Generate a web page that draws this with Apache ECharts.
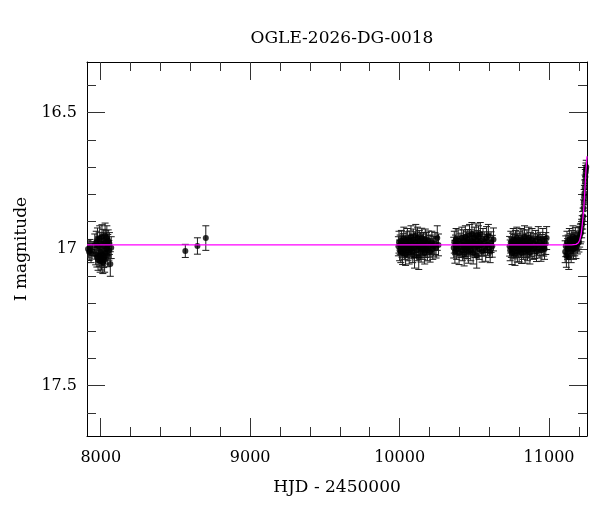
<!DOCTYPE html>
<html>
<head>
<meta charset="utf-8">
<script src="https://cdn.jsdelivr.net/npm/echarts@6.0.0/dist/echarts.min.js"></script>
<style>
html,body{margin:0;padding:0;background:#fff;}
#chart{width:600px;height:512px;}
</style>
</head>
<body>
<div id="chart"></div>
<script>
const chartTitle = 'OGLE-2026-DG-0018';
const xAxisTitle = 'HJD - 2450000';
const yAxisTitle = 'I magnitude';

const xMajorTicks = [8000, 9000, 10000, 11000];
const xMinorTicks = [8200, 8400, 8600, 8800, 9200, 9400, 9600, 9800, 10200, 10400, 10600, 10800, 11200];
const yMajorTicks = [16.5, 17, 17.5];
const yMinorTicks = [16.4, 16.6, 16.7, 16.8, 16.9, 17.1, 17.2, 17.3, 17.4, 17.6];

// [HJD-2450000, I mag, error]
const season1 = [
  [7915,17.000,0.030],[7922,17.010,0.032],[7928,16.995,0.030],[7935,17.015,0.035],[7942,17.005,0.032],
  [7960,16.985,0.040],[7966,17.020,0.038],[7970,16.975,0.040],[7974,17.030,0.036],[7978,16.965,0.042],
  [7982,17.040,0.038],[7986,16.990,0.035],[7990,17.025,0.040],[7993,16.960,0.045],[7996,17.045,0.040],
  [7999,17.010,0.038],[8002,16.980,0.040],[8005,17.035,0.042],[8008,16.955,0.044],[8011,17.020,0.040],
  [8014,17.050,0.040],[8017,16.970,0.042],[8020,17.030,0.038],[8023,16.990,0.040],[8026,17.040,0.045],
  [8029,16.950,0.045],[8032,17.015,0.040],[8035,16.975,0.042],[8038,17.000,0.040],[8041,16.960,0.045],
  [8044,17.025,0.040],[8047,16.985,0.038],[8050,16.970,0.040],[8054,17.005,0.036],[8058,16.980,0.040],
  [8064,17.055,0.045],[8070,16.995,0.040]
];
const sparsePoints = [
  [8566,17.007,0.024],[8647,16.989,0.030],[8703,16.960,0.045]
];
const season2 = [
  [9992,16.990,0.035],[9996,16.975,0.040],[10000,17.005,0.038],[10004,16.985,0.036],[10008,17.010,0.040],
  [10012,16.970,0.038],[10016,16.995,0.035],[10020,17.015,0.042],[10024,16.980,0.036],[10028,16.960,0.040],
  [10032,17.000,0.038],[10036,16.990,0.035],[10040,17.020,0.040],[10044,16.975,0.038],[10048,16.995,0.036],
  [10052,16.965,0.040],[10056,17.005,0.038],[10060,16.985,0.035],[10064,17.015,0.040],[10068,16.970,0.036],
  [10072,16.990,0.038],[10076,16.955,0.040],[10080,17.000,0.036],[10084,16.980,0.035],[10088,17.010,0.040],
  [10092,16.965,0.038],[10096,16.995,0.036],[10100,17.025,0.045],[10104,16.975,0.038],[10108,16.950,0.040],
  [10112,16.985,0.036],[10116,17.005,0.038],[10120,16.960,0.040],[10124,16.990,0.035],[10128,17.030,0.045],
  [10132,16.970,0.038],[10136,16.995,0.036],[10140,16.980,0.040],[10144,17.010,0.038],[10148,16.960,0.036],
  [10152,16.985,0.040],[10156,17.000,0.038],[10160,16.975,0.036],[10164,16.990,0.035],[10168,17.015,0.040],
  [10172,16.965,0.038],[10176,16.995,0.036],[10180,16.980,0.040],[10186,17.005,0.038],[10192,16.970,0.036],
  [10198,16.990,0.040],[10204,17.010,0.038],[10210,16.985,0.036],[10216,16.975,0.040],[10222,17.000,0.038],
  [10228,16.990,0.036],[10236,16.980,0.040],[10244,16.995,0.038],[10252,16.960,0.045],[10260,16.985,0.040]
];
const season3 = [
  [10362,16.995,0.038],[10366,16.975,0.040],[10370,17.010,0.042],[10374,16.985,0.036],[10378,16.965,0.040],
  [10382,17.000,0.038],[10386,16.990,0.036],[10392,16.970,0.040],[10398,17.015,0.042],[10404,16.980,0.038],
  [10410,16.995,0.036],[10416,16.960,0.040],[10420,17.005,0.038],[10424,16.985,0.036],[10428,16.970,0.040],
  [10432,17.020,0.042],[10436,16.990,0.038],[10440,16.955,0.040],[10444,17.000,0.036],[10448,16.975,0.038],
  [10452,16.995,0.040],[10456,16.965,0.036],[10460,17.010,0.042],[10464,16.980,0.038],[10468,16.950,0.040],
  [10472,16.990,0.036],[10476,17.005,0.038],[10480,16.970,0.040],[10484,16.945,0.042],[10488,16.985,0.036],
  [10492,17.015,0.040],[10496,16.975,0.038],[10500,16.960,0.040],[10504,16.995,0.036],[10508,16.980,0.038],
  [10512,16.950,0.042],[10516,17.025,0.045],[10520,16.970,0.038],[10524,16.990,0.036],[10528,16.955,0.040],
  [10532,17.000,0.038],[10536,16.975,0.036],[10540,16.945,0.042],[10546,16.985,0.040],[10552,17.010,0.038],
  [10558,16.965,0.040],[10564,16.990,0.036],[10570,16.975,0.038],[10576,17.005,0.040],[10582,16.960,0.042],
  [10588,16.985,0.038],[10594,16.950,0.040],[10600,16.995,0.036],[10606,17.010,0.040],[10612,16.975,0.038],
  [10620,16.990,0.040],[10628,16.965,0.042]
];
const season4 = [
  [10736,16.990,0.036],[10740,17.005,0.038],[10744,16.975,0.040],[10748,16.995,0.036],[10752,17.015,0.042],
  [10756,16.980,0.038],[10760,16.965,0.040],[10764,17.000,0.036],[10768,16.985,0.038],[10772,17.020,0.040],
  [10776,16.970,0.038],[10780,16.995,0.036],[10784,16.960,0.040],[10788,17.010,0.038],[10792,16.980,0.036],
  [10796,16.990,0.040],[10800,17.005,0.042],[10804,16.975,0.038],[10808,16.995,0.036],[10812,16.965,0.040],
  [10816,17.015,0.038],[10820,16.985,0.036],[10824,16.970,0.040],[10828,17.000,0.038],[10832,16.990,0.036],
  [10836,16.955,0.040],[10840,17.010,0.042],[10844,16.980,0.038],[10848,16.995,0.036],[10852,16.970,0.040],
  [10856,17.005,0.038],[10860,16.985,0.036],[10864,16.960,0.040],[10868,16.995,0.038],[10872,17.015,0.040],
  [10876,16.975,0.036],[10880,16.990,0.038],[10886,16.965,0.040],[10892,17.000,0.038],[10898,16.980,0.036],
  [10904,16.995,0.040],[10910,16.970,0.038],[10916,17.010,0.036],[10922,16.985,0.040],[10928,16.960,0.042],
  [10934,16.995,0.038],[10940,16.975,0.036],[10946,17.005,0.040],[10952,16.985,0.038],[10958,16.965,0.040],
  [10964,16.990,0.036],[10970,17.000,0.038],[10978,16.980,0.040],[10984,16.960,0.042]
];
const season5 = [
  [11108,17.010,0.040],[11112,16.990,0.038],[11116,17.025,0.042],[11120,16.975,0.040],[11124,17.000,0.038],
  [11128,16.985,0.036],[11132,17.030,0.045],[11136,16.965,0.040],[11140,16.995,0.038],[11144,16.980,0.036],
  [11148,17.010,0.040],[11152,16.970,0.038],[11156,16.990,0.036],[11160,16.955,0.040],[11164,17.000,0.038],
  [11168,16.975,0.036],[11172,16.985,0.040],[11176,16.960,0.038],[11180,16.995,0.040],[11185,16.970,0.036],
  [11190,16.980,0.038],[11195,16.960,0.040],[11200,16.975,0.036],[11205,16.955,0.038],[11210,16.945,0.036],
  [11214,16.940,0.034],[11218,16.925,0.034],[11222,16.910,0.032],[11225,16.895,0.032],[11228,16.880,0.030],
  [11231,16.850,0.030],[11233,16.830,0.030],[11235,16.810,0.028],[11237,16.795,0.028],[11239,16.775,0.028],
  [11241,16.755,0.026],[11243,16.735,0.026],[11245,16.720,0.026],[11247,16.710,0.025],[11249,16.700,0.025]
];

const modelT   = [7908, 9000, 10000, 11000, 11150, 11180, 11195, 11205, 11215, 11222, 11228, 11233, 11238, 11243, 11248, 11254];
const modelMag = [16.985, 16.985, 16.985, 16.985, 16.985, 16.983, 16.978, 16.968, 16.945, 16.912, 16.880, 16.845, 16.800, 16.752, 16.705, 16.660];

const observations = [].concat(season1, sparsePoints, season2, season3, season4, season5);
const modelLine = modelT.map((t, i) => [t, modelMag[i]]);

const FONT = 'DejaVu Serif';
const X_MIN = 7908, X_MAX = 11254, Y_MIN = 16.315, Y_MAX = 17.685;
const MAJOR_LEN = 18, MINOR_LEN = 9;
const tickStyle = {color: '#333', width: 1};
const lineStyle = {color: '#000', width: 1};

function xAxisDef(position, ticks, len, withLabels, showLine) {
  return {
    type: 'value', position: position, min: X_MIN, max: X_MAX,
    splitLine: {show: false},
    axisLine: {show: showLine, onZero: false, lineStyle: lineStyle},
    axisTick: {show: true, inside: true, length: len, customValues: ticks, lineStyle: tickStyle},
    axisLabel: withLabels ? {show: true, customValues: ticks, formatter: v => String(v),
      fontFamily: FONT, fontSize: 16, color: '#000', margin: 14} : {show: false},
    name: withLabels ? xAxisTitle : '',
    nameLocation: 'middle', nameGap: 43,
    nameTextStyle: {fontFamily: FONT, fontSize: 17, color: '#000'}
  };
}
function yAxisDef(position, ticks, len, withLabels, showLine) {
  return {
    type: 'value', position: position, min: Y_MIN, max: Y_MAX, inverse: true,
    splitLine: {show: false},
    axisLine: {show: showLine, onZero: false, lineStyle: lineStyle},
    axisTick: {show: true, inside: true, length: len, customValues: ticks, lineStyle: tickStyle},
    axisLabel: withLabels ? {show: true, customValues: ticks, formatter: v => String(v),
      fontFamily: FONT, fontSize: 16, color: '#000', margin: 10} : {show: false},
    name: withLabels ? yAxisTitle : '',
    nameLocation: 'middle', nameGap: 56, nameRotate: 90,
    nameTextStyle: {fontFamily: FONT, fontSize: 17, color: '#000'}
  };
}

function renderErrorBar(params, api) {
  const t = api.value(0), m = api.value(1), e = api.value(2);
  const a = api.coord([t, m - e]);
  const b = api.coord([t, m + e]);
  const hw = 3.5;
  const st = {stroke: '#1a1a1a', lineWidth: 1, fill: null};
  return {
    type: 'group',
    children: [
      {type: 'line', shape: {x1: a[0], y1: a[1], x2: b[0], y2: b[1]}, style: st},
      {type: 'line', shape: {x1: a[0] - hw, y1: a[1], x2: a[0] + hw, y2: a[1]}, style: st},
      {type: 'line', shape: {x1: b[0] - hw, y1: b[1], x2: b[0] + hw, y2: b[1]}, style: st}
    ]
  };
}

const chart = echarts.init(document.getElementById('chart'), null, {renderer: 'canvas'});
chart.setOption({
  animation: false,
  backgroundColor: '#fff',
  title: {
    text: chartTitle, left: 337, top: 25, textAlign: 'center',
    textStyle: {fontFamily: FONT, fontSize: 17, fontWeight: 'normal', color: '#000'}
  },
  grid: {left: 87, right: 13, top: 62, bottom: 76, containLabel: false, outerBoundsMode: 'none'},
  xAxis: [
    xAxisDef('bottom', xMajorTicks, MAJOR_LEN, true, true),
    xAxisDef('bottom', xMinorTicks, MINOR_LEN, false, false),
    xAxisDef('top', xMajorTicks, MAJOR_LEN, false, true),
    xAxisDef('top', xMinorTicks, MINOR_LEN, false, false)
  ],
  yAxis: [
    yAxisDef('left', yMajorTicks, MAJOR_LEN, true, true),
    yAxisDef('left', yMinorTicks, MINOR_LEN, false, false),
    yAxisDef('right', yMajorTicks, MAJOR_LEN, false, true),
    yAxisDef('right', yMinorTicks, MINOR_LEN, false, false)
  ],
  series: [
    {
      type: 'custom', name: 'errors', xAxisIndex: 0, yAxisIndex: 0,
      renderItem: renderErrorBar, data: observations, clip: true,
      encode: {x: 0, y: 1}, z: 2
    },
    {
      type: 'scatter', name: 'data', xAxisIndex: 0, yAxisIndex: 0,
      data: observations.map(d => [d[0], d[1]]),
      symbol: 'circle', symbolSize: 6, itemStyle: {color: '#000'}, clip: true, z: 3
    },
    {
      type: 'line', name: 'model', xAxisIndex: 0, yAxisIndex: 0,
      data: modelLine, showSymbol: false, symbol: 'none', smooth: false,
      lineStyle: {color: '#ff00ff', width: 1.3}, clip: true, z: 4
    }
  ]
});
</script>
</body>
</html>
